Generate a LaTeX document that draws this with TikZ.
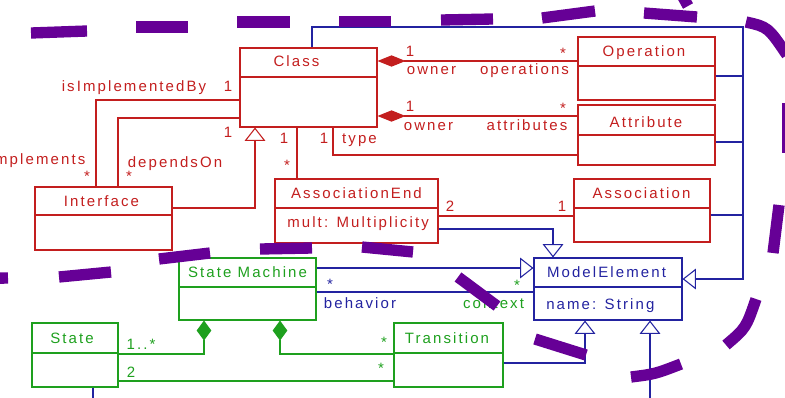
\documentclass[tikz,border=0pt]{standalone}
\usepackage{fontspec}
\setmainfont{Liberation Sans}[LetterSpace=14]
\usepackage{tikz}
\usetikzlibrary{arrows.meta, fit}

\definecolor{umlred}{RGB}{195,30,30}
\definecolor{umlgreen}{RGB}{30,160,30}
\definecolor{umlblue}{RGB}{35,35,160}
\definecolor{marker}{RGB}{102,0,150}

\tikzset{
  box/.style={draw, inner sep=0pt, line width=0.8pt},
  redbox/.style={box, draw=umlred},
  greenbox/.style={box, draw=umlgreen},
  bluebox/.style={box, draw=umlblue},
  redline/.style={umlred, line width=0.8pt},
  greenline/.style={umlgreen, line width=0.8pt},
  blueline/.style={umlblue, line width=0.8pt},
  txt/.style={anchor=base, inner sep=0pt},
  star/.style={inner sep=0pt},
  comp/.style={arrows={Diamond[length=21pt,width=8.5pt]-}},
  gcomp/.style={arrows={Diamond[length=15pt,width=11pt]-}},
  gen/.style={arrows={-Triangle[open,length=10pt,width=15.5pt]}},
  stroke/.style={marker, line width=8.5pt},
}

\begin{document}
\begin{tikzpicture}[x=0.75pt,y=0.75pt,yscale=-1,xscale=1,font=\fontsize{11.25}{13}\selectfont]
\useasboundingbox (0,0) rectangle (785,397);

%Shape: Rectangle [Class]
\node[redbox, fit={(240,48) (377,127)}] (class) {};
\draw[redline] (class.west |- 0,77) -- (class.east |- 0,77);
%Shape: Rectangle [Operation]
\node[redbox, fit={(578,37) (715,100)}] (operation) {};
\draw[redline] (operation.west |- 0,66) -- (operation.east |- 0,66);
%Shape: Rectangle [Attribute]
\node[redbox, fit={(578,105) (715,165)}] (attribute) {};
\draw[redline] (attribute.west |- 0,135) -- (attribute.east |- 0,135);
%Shape: Rectangle [Association]
\node[redbox, fit={(574,179) (710,242)}] (association) {};
\draw[redline] (association.west |- 0,208) -- (association.east |- 0,208);
%Shape: Rectangle [AssociationEnd]
\node[redbox, fit={(275,179) (438,243)}] (assocend) {};
\draw[redline] (assocend.west |- 0,208) -- (assocend.east |- 0,208);
%Shape: Rectangle [Interface]
\node[redbox, fit={(35,187) (172,250)}] (interface) {};
\draw[redline] (interface.west |- 0,215) -- (interface.east |- 0,215);
%Shape: Rectangle [State Machine]
\node[greenbox, fit={(179,258) (316,320)}] (statemachine) {};
\draw[greenline] (statemachine.west |- 0,287) -- (statemachine.east |- 0,287);
%Shape: Rectangle [State]
\node[greenbox, fit={(32,323) (118,387)}] (state) {};
\draw[greenline] (state.west |- 0,353) -- (state.east |- 0,353);
%Shape: Rectangle [Transition]
\node[greenbox, fit={(394,323) (503,387)}] (transition) {};
\draw[greenline] (transition.west |- 0,353) -- (transition.east |- 0,353);
%Shape: Rectangle [ModelElement]
\node[bluebox, fit={(534,258) (682,320)}] (modelelement) {};
\draw[blueline] (modelelement.west |- 0,287) -- (modelelement.east |- 0,287);

% Text Node
\node[txt, umlred] (class-t) at (296.5,66) {Class};
\node[txt, umlred] (operation-t) at (644,56) {Operation};
\node[txt, umlred] (attribute-t) at (646,127) {Attribute};
\node[txt, umlred] (association-t) at (641.5,198) {Association};
\node[txt, umlred] (assocend-t) at (356.5,198) {AssociationEnd};
\node[txt, umlred, anchor=base west] (assocend-a) at (287,227) {mult: Multiplicity};
\node[txt, umlred] (interface-t) at (101.5,206) {Interface};
\node[txt, umlgreen] (statemachine-t) at (247.5,277) {State Machine};
\node[txt, umlgreen] (state-t) at (72,343) {State};
\node[txt, umlgreen] (transition-t) at (447,343) {Transition};
\node[txt, umlblue] (modelelement-t) at (606.5,277) {ModelElement};
\node[txt, umlblue, anchor=base west] (modelelement-a) at (546,309) {name: String};

%Connectors
\coordinate (bus) at (743,27);
\coordinate (me-below) at (650,400);
\coordinate (state-below) at (93,400);
\draw[redline, comp] (class.east |- 0,61) -- (operation.west |- 0,61);
\draw[redline, comp] (class.east |- 0,116) -- (attribute.west |- 0,116);
\draw[redline] (class.south -| 333,0) |- (attribute.west |- 0,155);
\draw[redline] (class.south -| 297,0) -- (assocend.north -| 297,0);
\draw[redline] (class.west |- 0,100) -| (interface.north -| 96,0);
\draw[redline] (class.west |- 0,118) -| (interface.north -| 118,0);
\draw[redline, gen] (interface.east |- 0,208) -| (class.south -| 255,0);
\draw[redline] (assocend.east |- 0,216) -- (association.west |- 0,216);
\draw[blueline, gen] (assocend.east |- 0,229) -| (modelelement.north -| 553,0);
\draw[blueline, gen] (class.north -| 312,0) |- (bus) |- (modelelement.east |- 0,279);
\draw[blueline] (operation.east |- 0,76) -- (bus |- 0,76);
\draw[blueline] (attribute.east |- 0,142) -- (bus |- 0,142);
\draw[blueline] (association.east |- 0,215) -- (bus |- 0,215);
\draw[blueline, gen] (statemachine.east |- 0,268) -- (modelelement.west |- 0,268);
\draw[blueline] (statemachine.east |- 0,292) -- (modelelement.west |- 0,292);
\draw[greenline, gcomp] (statemachine.south -| 204,0) |- (state.east |- 0,354);
\draw[greenline, gcomp] (statemachine.south -| 280,0) |- (transition.west |- 0,354);
\draw[greenline] (state.east |- 0,381) -- (transition.west |- 0,381);
\draw[blueline, gen] (transition.east |- 0,363) -| (modelelement.south -| 585,0);
\draw[blueline, gen] (me-below) -- (modelelement.south -| me-below);
\draw[blueline] (state.south -| state-below) -- (state-below);

% Text Node
\node[txt, umlred] (impl-by) at (134,91) {isImplementedBy};
\node[txt, umlred] (impl-by-m) at (228,91) {1};
\node[txt, umlred] (dep-m) at (228,137) {1};
\node[txt, umlred] (impl) at (37.5,164) {implements};
\node[star, umlred] (impl-m) at (87,176) {*};
\node[txt, umlred] (dep) at (175,167) {dependsOn};
\node[star, umlred] (dep-s) at (129,176) {*};
\node[txt, umlred] (end-m) at (284,143) {1};
\node[star, umlred] (end-s) at (287,165) {*};
\node[txt, umlred] (type-m) at (324,143) {1};
\node[txt, umlred] (type) at (359.5,143) {type};
\node[txt, umlred] (op-m) at (410,56) {1};
\node[txt, umlred] (op-owner) at (431.5,74) {owner};
\node[star, umlred] (op-s) at (563,53) {*};
\node[txt, umlred] (op-role) at (524.5,74) {operations};
\node[txt, umlred] (at-m) at (410,111) {1};
\node[txt, umlred] (at-owner) at (428.5,130) {owner};
\node[star, umlred] (at-s) at (563,108) {*};
\node[txt, umlred] (at-role) at (527,130) {attributes};
\node[txt, umlred] (conn-m) at (450,211) {2};
\node[txt, umlred] (assoc-m) at (562,211) {1};
\node[star, umlblue] (beh-s) at (330,284) {*};
\node[txt, umlblue] (beh) at (360,308) {behavior};
\node[star, umlgreen] (ctx-s) at (517,285) {*};
\node[txt, umlgreen] (ctx) at (493.5,308) {context};
\node[txt, umlgreen] (sub-m) at (141,349) {1..*};
\node[star, umlgreen] (tr-s) at (384,342) {*};
\node[txt, umlgreen] (src-m) at (131,377) {2};
\node[star, umlgreen] (src-s) at (381,368) {*};

%Pen strokes
\draw[stroke] (-44,279) -- (8,278);
\draw[stroke] (59,277) -- (111,272);
\draw[stroke] (159,259) -- (210,253);
\draw[stroke] (260,249) -- (312,248);
\draw[stroke] (362,247) -- (413,252);
\draw[stroke] (458,277) -- (497,306);
\draw[stroke] (535,339) -- (586,355);
\draw[stroke] (631,377) .. controls (655,374) .. (681,364);
\draw[stroke] (756,299) .. controls (746,328) .. (726,345);
\draw[stroke] (779,205) -- (773,253);
\draw[stroke] (788,103) -- (788,153);
\draw[stroke] (746,22) .. controls (768,27) .. (787,55);
\draw[stroke] (683,-3) -- (688,6);
\draw[stroke] (644,13) -- (697,17);
\draw[stroke] (542,18) -- (595,11);
\draw[stroke] (441,20) -- (493,19);
\draw[stroke] (339,21.5) -- (391,21.5);
\draw[stroke] (237,22) -- (290,22);
\draw[stroke] (136,27) -- (188,27);
\draw[stroke] (31,33) -- (87,31);

\end{tikzpicture}
\end{document}
